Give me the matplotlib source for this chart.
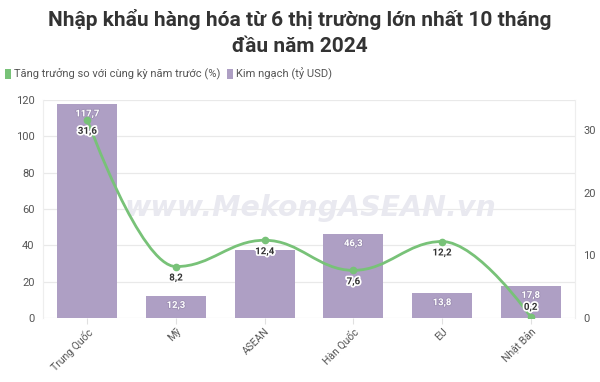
import matplotlib
matplotlib.use("Agg")
import matplotlib.pyplot as plt
import matplotlib.patheffects as pe
from matplotlib.path import Path
from matplotlib.patches import PathPatch, Rectangle

categories = ["Trung Quốc", "Mỹ", "ASEAN", "Hàn Quốc", "EU", "Nhật Bản"]
kim_ngach = [117.7, 12.3, 37.6, 46.3, 13.8, 17.8]
tang_truong = [31.6, 8.2, 12.4, 7.6, 12.2, 0.2]
kim_ngach_labels = ["117,7", "12,3", "", "46,3", "13,8", "17,8"]
tang_truong_labels = ["31,6", "8,2", "12,4", "7,6", "12,2", "0,2"]
left_ticks = [0, 20, 40, 60, 80, 100, 120]
right_ticks = [0, 10, 20, 30]

title = "Nhập khẩu hàng hóa từ 6 thị trường lớn nhất 10 tháng\nđầu năm 2024"
legend_line = "Tăng trưởng so với cùng kỳ năm trước (%)"
legend_bar = "Kim ngạch (tỷ USD)"
watermark = "www.MekongASEAN.vn"

BAR = "#ae9fc4"
GREEN = "#78c278"
TXT = "#555555"
FONT = ["Roboto", "DejaVu Sans"]
plt.rcParams["font.family"] = FONT

fig = plt.figure(figsize=(6.0, 3.82), dpi=100)
ax = fig.add_axes([43/600, 1-318/382, (575-43)/600, (318-100)/382])
ax2 = ax.twinx()

x = list(range(len(categories)))
ax.bar(x, kim_ngach, width=0.68, color=BAR, zorder=2)
ax.set_ylim(0, 120)
ax.set_xlim(-0.5, len(categories) - 0.5)
ax.set_yticks(left_ticks)
ax.set_xticks(x)
ax.set_xticklabels(categories, rotation=45, ha="right", rotation_mode="anchor")
ax.grid(axis="y", color="#e9e9e9", linewidth=0.9, zorder=0)
ax.set_axisbelow(True)
for s in ["top", "bottom"]:
    ax.spines[s].set_visible(False)
    ax2.spines[s].set_visible(False)
for a in (ax, ax2):
    a.spines["left"].set_color("#eeeeee")
    a.spines["right"].set_color("#eeeeee")
ax.tick_params(axis="y", length=0, labelsize=8, labelcolor=TXT, pad=6)
ax.tick_params(axis="x", length=4, color="#e0e0e0", labelsize=7.5, labelcolor=TXT, pad=2)
ax2.set_ylim(0, 218 / 6.27)
ax2.set_yticks(right_ticks)
ax2.tick_params(axis="y", length=0, labelsize=8, labelcolor=TXT, pad=6)

# watermark
ax.text(0.502, 0.505, watermark, transform=ax.transAxes, fontsize=20.5, fontweight="bold",
        fontstyle="italic", color="#e9e9f0", ha="center", va="center", zorder=1,
        family="DejaVu Sans")

# bar labels
for xi, v, lab in zip(x, kim_ngach, kim_ngach_labels):
    if lab:
        ax.annotate(lab, (xi, v), xytext=(0, -7), textcoords="offset points",
                    ha="center", va="center", fontsize=6.8, fontweight="bold", color="white",
                    zorder=5, path_effects=[pe.withStroke(linewidth=1.2, foreground="#9d8fb3")])

# spline (Highcharts-style smoothing) built from data points
smoothing = 1.5
denom = smoothing + 1
verts = [(x[0], tang_truong[0])]
codes = [Path.MOVETO]
n = len(x)
left_c = [None] * n
right_c = [None] * n
for i in range(1, n - 1):
    lx, ly = x[i-1], tang_truong[i-1]
    px, py = x[i], tang_truong[i]
    nx, ny = x[i+1], tang_truong[i+1]
    lcx = (smoothing * px + lx) / denom
    lcy = (smoothing * py + ly) / denom
    rcx = (smoothing * px + nx) / denom
    rcy = (smoothing * py + ny) / denom
    joint = lcy + (rcy - lcy) * (px - lcx) / (rcx - lcx)
    d = py - joint
    lcy += d
    rcy += d
    if lcy > ly and lcy > py:
        lcy = max(ly, py); rcy = 2 * py - lcy
    elif lcy < ly and lcy < py:
        lcy = min(ly, py); rcy = 2 * py - lcy
    if rcy > ny and rcy > py:
        rcy = max(ny, py); lcy = 2 * py - rcy
    elif rcy < ny and rcy < py:
        rcy = min(ny, py); lcy = 2 * py - rcy
    left_c[i] = (lcx, lcy)
    right_c[i] = (rcx, rcy)
for i in range(1, n):
    c1 = right_c[i-1] if right_c[i-1] is not None else (x[i-1], tang_truong[i-1])
    c2 = left_c[i] if left_c[i] is not None else (x[i], tang_truong[i])
    verts += [c1, c2, (x[i], tang_truong[i])]
    codes += [Path.CURVE4] * 3
ax2.add_patch(PathPatch(Path(verts, codes), facecolor="none", edgecolor=GREEN,
                        linewidth=2, zorder=3))
ax2.plot(x, tang_truong, linestyle="none", marker="o", markersize=4.5, color=GREEN, zorder=4)

for xi, v, lab in zip(x, tang_truong, tang_truong_labels):
    off = 7 if v < 2 else -8
    ax2.annotate(lab, (xi, v), xytext=(0, off), textcoords="offset points",
                 ha="center", va="center", fontsize=7, fontweight="bold", color="#333333",
                 zorder=6, path_effects=[pe.withStroke(linewidth=2.5, foreground="white")])

# title
fig.text(0.5, 1 - 20/382, title.split("\n")[0], ha="center", va="center",
         fontsize=15, fontweight="bold", color="#333333")
fig.text(0.5, 1 - 46/382, title.split("\n")[1], ha="center", va="center",
         fontsize=15, fontweight="bold", color="#333333")

# legend
fig.patches.append(Rectangle((5/600, 1-79/382), 6/600, 10/382, transform=fig.transFigure,
                             facecolor=GREEN, edgecolor="none"))
fig.text(14/600, 1-74/382, legend_line, ha="left", va="center", fontsize=8, color=TXT)
fig.patches.append(Rectangle((227/600, 1-79/382), 6/600, 10/382, transform=fig.transFigure,
                             facecolor=BAR, edgecolor="none"))
fig.text(236/600, 1-74/382, legend_bar, ha="left", va="center", fontsize=8, color=TXT)

fig.savefig("out.png", dpi=100)
